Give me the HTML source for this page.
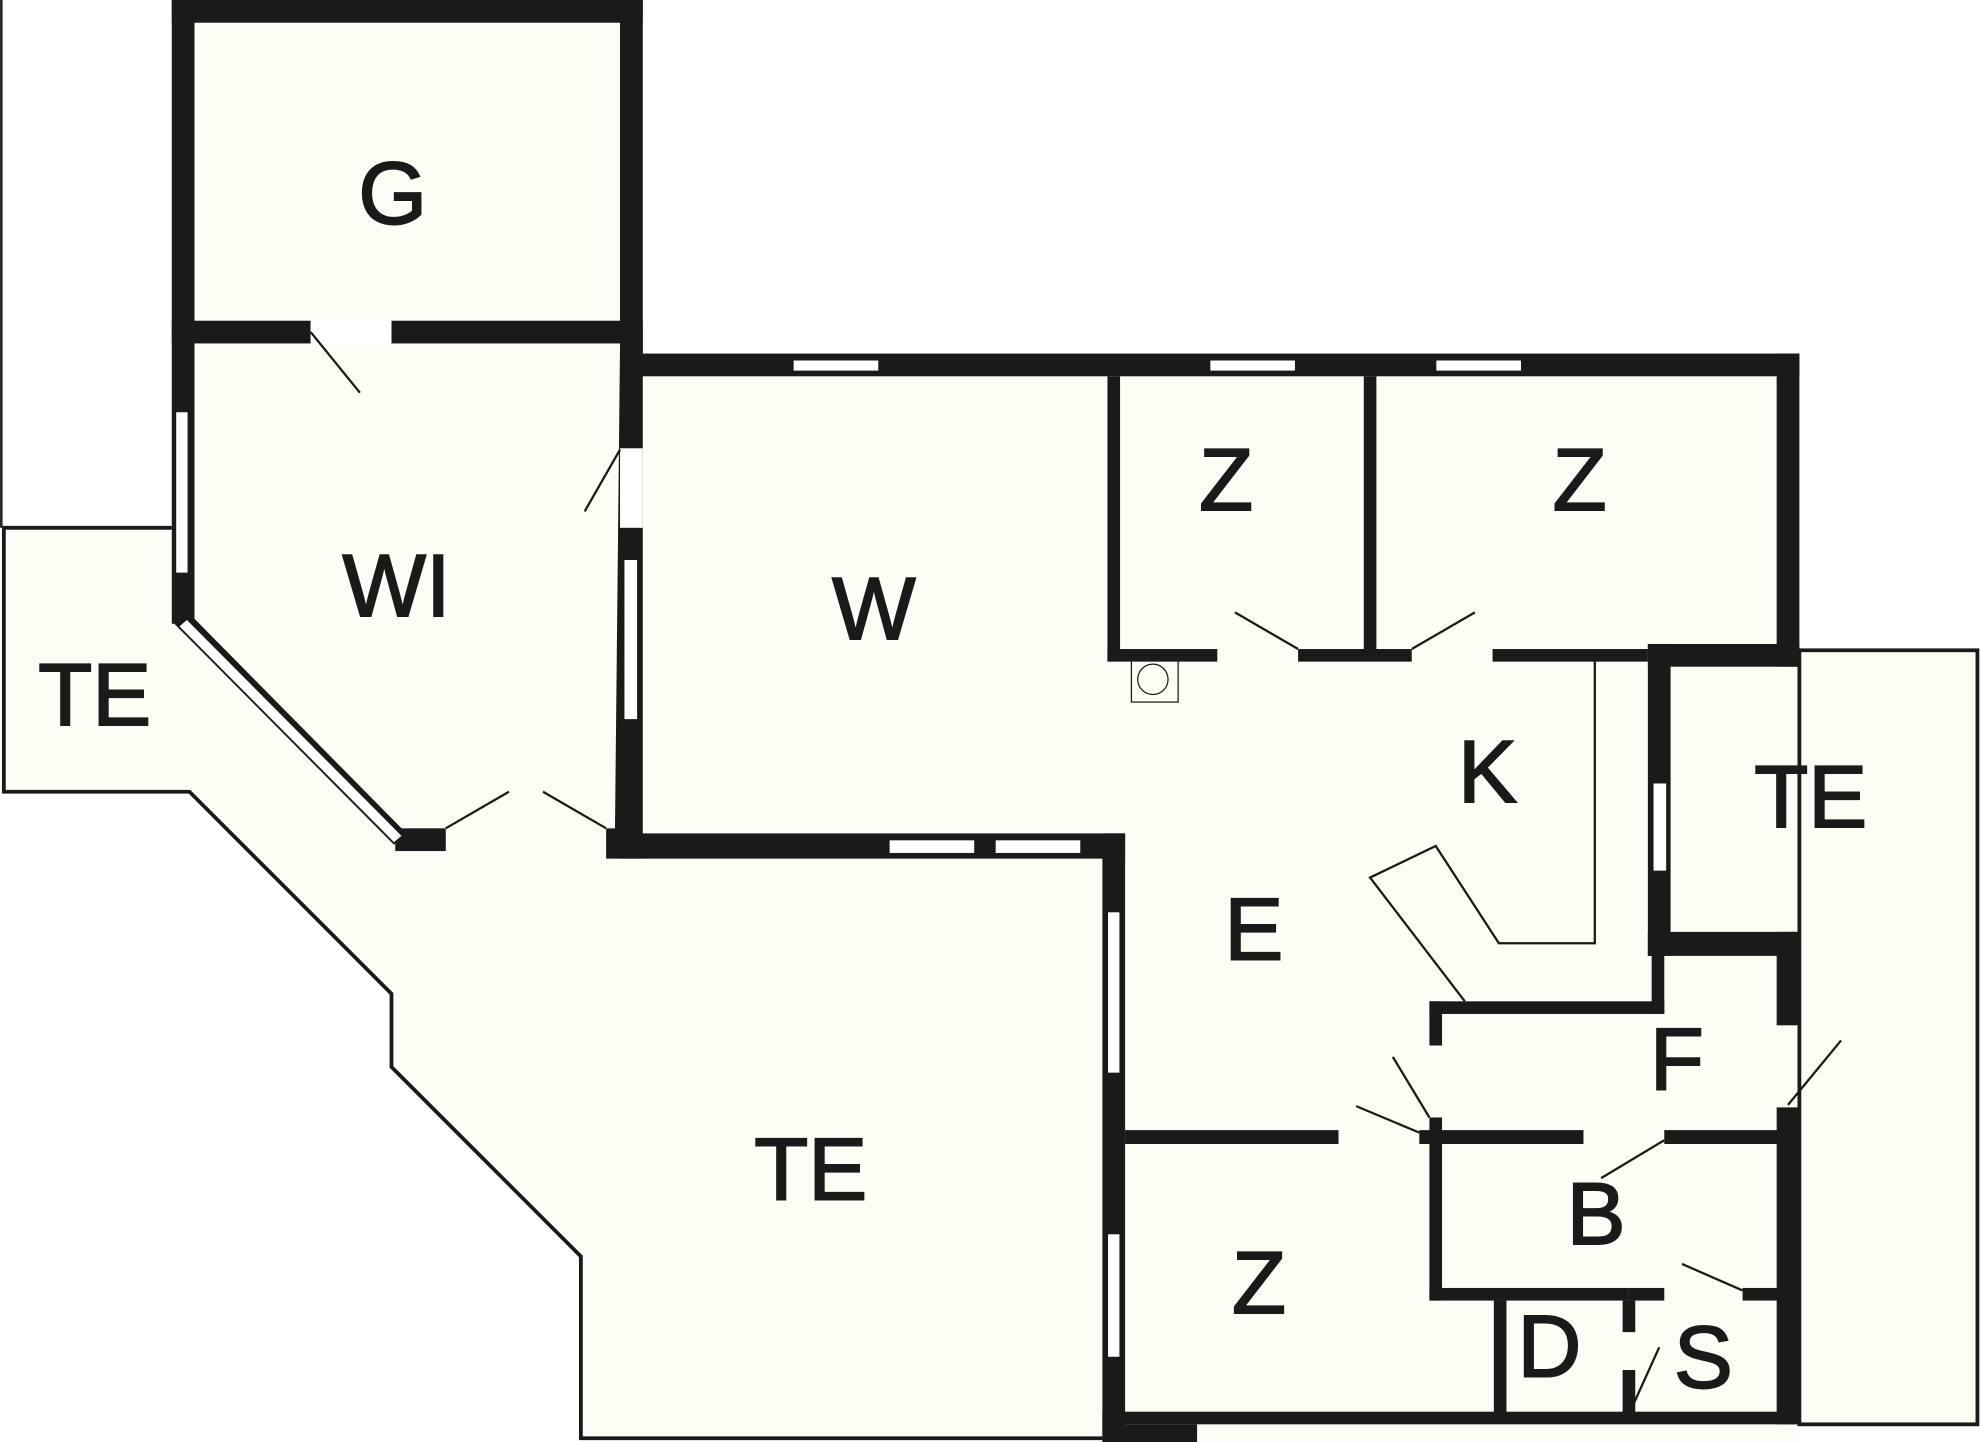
<!DOCTYPE html>
<html><head><style>html,body{margin:0;padding:0;background:#fff}svg{display:block}</style></head>
<body>
<svg width="1980" height="1442" viewBox="0 0 1568 1142" xmlns="http://www.w3.org/2000/svg" font-family="Liberation Sans, sans-serif">
<rect width="1568" height="1142" fill="#fff"/>
<g fill="#fdfdf6" stroke="none">
<rect x="136" y="0" width="373" height="280"/>
<polygon points="136,272 509,272 491,680 313,674 140,492"/>
<polygon points="491,280 1425,280 1425,1142 873,1142 873,680 491,680"/>
<polygon points="5,420 136,420 136,492 313,674 491,680 873,680 873,1138 460,1138 460,995 310,845 310,787 150,627 5,627"/>
<rect x="1425" y="514" width="141" height="614"/>
</g>
<line x1="1" y1="0" x2="1" y2="418" stroke="#222" stroke-width="2"/>
<g fill="none" stroke="#1a1a1a" stroke-width="3">
<polyline points="136,418 3,418 3,627 150,627 310,787 310,845 460,995 460,1139 873,1139"/>
<rect x="1425" y="515" width="141" height="613"/>
</g>
<g fill="#1a1a1a">
<rect x="136" y="0" width="373" height="18"/>
<rect x="136" y="0" width="18" height="272"/>
<rect x="491" y="0" width="18" height="280"/>
<rect x="136" y="254" width="110" height="18"/>
<rect x="310" y="254" width="199" height="18"/>
<rect x="136" y="272" width="18" height="222"/>
<polygon points="136,492 150,486 322,660 313,668"/>
<rect x="313" y="656" width="40" height="18"/>
<polygon points="491,272 509,272 509,680 480,680 480,656 487,656"/>
<rect x="491" y="280" width="934" height="18"/>
<rect x="1407" y="280" width="18" height="248"/>
<rect x="491" y="660" width="400" height="20"/>
<rect x="873" y="660" width="18" height="482"/>
<rect x="877" y="298" width="10" height="225"/>
<rect x="1080" y="298" width="10" height="225"/>
<rect x="877" y="514" width="87" height="10"/>
<rect x="1028" y="514" width="90" height="10"/>
<rect x="1182" y="514" width="123" height="10"/>
<rect x="1305" y="510" width="120" height="18"/>
<rect x="1305" y="510" width="18" height="247"/>
<rect x="1305" y="738" width="120" height="19"/>
<rect x="1407" y="738" width="18" height="74"/>
<rect x="1407" y="877" width="18" height="251"/>
<rect x="1132" y="793" width="186" height="10"/>
<rect x="1308" y="750" width="10" height="53"/>
<rect x="1132" y="793" width="10" height="35"/>
<rect x="1132" y="885" width="10" height="145"/>
<rect x="891" y="895" width="169" height="11"/>
<rect x="1124" y="895" width="130" height="11"/>
<rect x="1318" y="895" width="107" height="11"/>
<rect x="1132" y="1020" width="158" height="10"/>
<rect x="1380" y="1020" width="45" height="10"/>
<rect x="1290" y="1020" width="28" height="10"/>
<rect x="1183" y="1030" width="10" height="90"/>
<rect x="1285" y="1030" width="10" height="25"/>
<rect x="1285" y="1085" width="10" height="35"/>
<rect x="873" y="1118" width="552" height="10"/>
<rect x="873" y="1128" width="75" height="14"/>
</g>
<g fill="#fff" stroke="#1a1a1a" stroke-width="1">
<rect x="139" y="326" width="10" height="128"/>
<rect x="494" y="443" width="11" height="127"/>
<rect x="628" y="285" width="68" height="9"/>
<rect x="958" y="285" width="68" height="9"/>
<rect x="1137" y="285" width="68" height="9"/>
<rect x="704" y="665" width="68" height="11"/>
<rect x="788" y="665" width="68" height="11"/>
<rect x="877" y="722" width="10" height="128"/>
<rect x="877" y="977" width="10" height="98"/>
<rect x="1309" y="620" width="11" height="70"/>
</g>
<g fill="#fff" stroke="none">
<rect x="491" y="355" width="18" height="63"/>
<rect x="246" y="254" width="64" height="18"/>
</g>
<polygon points="141,496 148,490 319,662 312,668" fill="#fff" stroke="#1a1a1a" stroke-width="1.5"/>
<g fill="none" stroke="#1a1a1a" stroke-width="1.8">
<line x1="246" y1="263" x2="285" y2="311"/>
<line x1="491" y1="356" x2="463" y2="405"/>
<line x1="353" y1="656" x2="403" y2="627"/>
<line x1="430" y1="627" x2="480" y2="656"/>
<line x1="978" y1="485" x2="1028" y2="514"/>
<line x1="1118" y1="514" x2="1168" y2="485"/>
<polyline points="1263,523 1263,747 1187,747 1137,670 1085,695 1160,793"/>
<line x1="1132" y1="885" x2="1103" y2="837"/>
<line x1="1124" y1="897" x2="1074" y2="876"/>
<line x1="1268" y1="933" x2="1318" y2="903"/>
<line x1="1380" y1="1022" x2="1332" y2="1001"/>
<line x1="1290" y1="1120" x2="1314" y2="1067"/>
<line x1="1416" y1="875" x2="1458" y2="824"/>
<rect x="896" y="523" width="37" height="33" stroke-width="1"/>
<circle cx="913" cy="538" r="12" stroke-width="1"/>
</g>
<g font-size="70" fill="#1a1a1a" stroke="#1a1a1a" stroke-width="1.5" text-anchor="middle">
<text x="311" y="177">G</text>
<text x="314" y="488">WI</text>
<text x="75" y="574">TE</text>
<text x="692" y="506">W</text>
<text x="971" y="404">Z</text>
<text x="1251" y="404">Z</text>
<text x="1178" y="635">K</text>
<text x="1434" y="655">TE</text>
<text x="993" y="760">E</text>
<text x="1328" y="863">F</text>
<text x="642" y="950">TE</text>
<text x="1264" y="985">B</text>
<text x="997" y="1040">Z</text>
<text x="1227" y="1090">D</text>
<text x="1349" y="1099">S</text>
</g>
</svg>
</body></html>
